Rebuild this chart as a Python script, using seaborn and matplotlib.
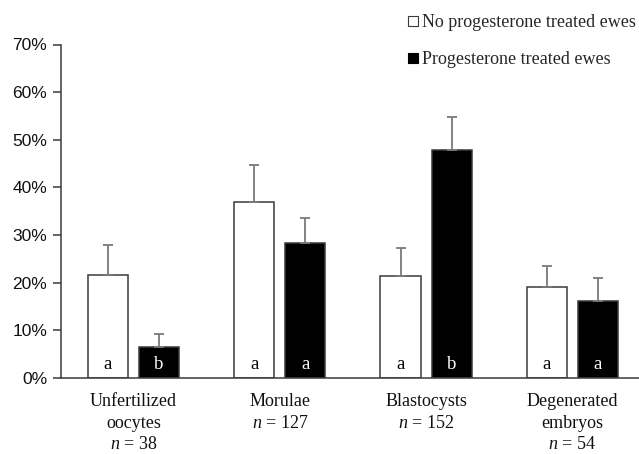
import matplotlib
matplotlib.use("Agg")
import matplotlib.pyplot as plt
from matplotlib.lines import Line2D
from matplotlib.ticker import FuncFormatter
import seaborn as sns
import pandas as pd

categories = ["Unfertilized\noocytes", "Morulae", "Blastocysts", "Degenerated\nembryos"]
n_counts = [38, 127, 152, 54]
groups = ["No progesterone treated ewes", "Progesterone treated ewes"]
untreated = [21.6, 37.0, 21.4, 19.1]
untreated_err = [6.3, 7.8, 5.8, 4.4]
treated = [6.6, 28.4, 47.9, 16.1]
treated_err = [2.6, 5.2, 6.9, 4.9]
untreated_letters = ["a", "a", "a", "a"]
treated_letters = ["b", "a", "b", "a"]

sns.set_style("white")
plt.rcParams["mathtext.fontset"] = "custom"
plt.rcParams["mathtext.rm"] = "Liberation Serif"
plt.rcParams["mathtext.it"] = "Liberation Serif:italic"

df = pd.DataFrame({
    "category": categories * 2,
    "group": [groups[0]] * 4 + [groups[1]] * 4,
    "value": [v / 100 for v in untreated + treated],
})

fig = plt.figure(figsize=(6.39, 4.54), dpi=100)
ax = fig.add_axes([61 / 639, 76 / 454, 578 / 639, 333.5 / 454])

sns.barplot(data=df, x="category", y="value", hue="group",
            hue_order=groups, order=categories,
            palette={groups[0]: "white", groups[1]: "black"},
            width=0.7, gap=0.217, errorbar=None, legend=False,
            edgecolor="#3a3a3a", linewidth=1.1, ax=ax)

bar_containers = list(ax.containers)
errs = [untreated_err, treated_err]
vals = [untreated, treated]
letters = [untreated_letters, treated_letters]
letter_colors = ["black", "white"]
for h, cont in enumerate(bar_containers):
    for i, bar in enumerate(cont):
        xc = bar.get_x() + bar.get_width() / 2
        v = vals[h][i] / 100
        ax.errorbar(xc, v, yerr=[[0], [errs[h][i] / 100]], fmt="none",
                    ecolor="#7a7a7a", elinewidth=1.3, capsize=3.8, capthick=1.3,
                    zorder=1)
        ax.text(xc, 0.018, letters[h][i], ha="center", va="baseline",
                fontsize=13.5, family="Liberation Serif", color=letter_colors[h])

ax.set_xlim(-0.496, 3.455)
ax.set_ylim(0, 0.7)
ax.set_yticks([i / 10 for i in range(8)])
ax.yaxis.set_major_formatter(FuncFormatter(lambda y, _: f"{round(y * 100)}%"))
for lbl in ax.get_yticklabels():
    lbl.set_family("Liberation Sans")
    lbl.set_fontsize(12.5)
    lbl.set_color("#111111")
ax.tick_params(axis="y", left=True, length=6, width=1.1, color="#3a3a3a", pad=4)
ax.tick_params(axis="x", bottom=False, pad=7)

xlabels = [f"{c}\n$\\it{{n}}$ = {n}" for c, n in zip(categories, n_counts)]
ax.set_xticks(range(len(categories)))
ax.set_xticklabels(xlabels, family="Liberation Serif", fontsize=13,
                   color="#111111", linespacing=1.38)
ax.set_xlabel("")
ax.set_ylabel("")

for side in ["top", "right"]:
    ax.spines[side].set_visible(False)
for side in ["left", "bottom"]:
    ax.spines[side].set_color("#3a3a3a")
    ax.spines[side].set_linewidth(1.1)

handles = [
    Line2D([], [], linestyle="none", marker="s", markersize=6.5,
           markerfacecolor="white", markeredgecolor="#3a3a3a", markeredgewidth=0.8),
    Line2D([], [], linestyle="none", marker="s", markersize=6.5,
           markerfacecolor="black", markeredgecolor="black", markeredgewidth=0.8),
]
fig.legend(handles, groups, loc="upper left", bbox_to_anchor=(408 / 639, 1 - 14 / 454),
           frameon=False, prop={"family": "Liberation Serif", "size": 13},
           handlelength=0.6, handletextpad=0.15, labelspacing=1.1,
           borderpad=0, borderaxespad=0)

fig.savefig("out.png", dpi=100)
